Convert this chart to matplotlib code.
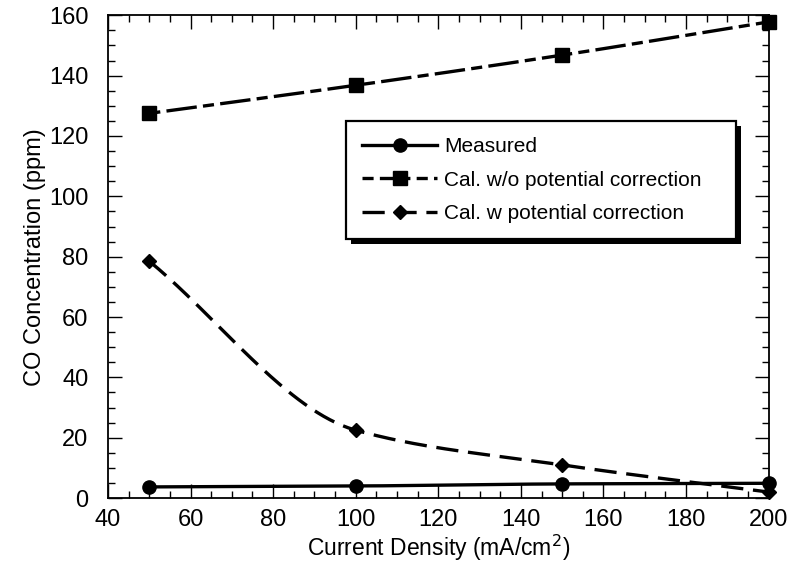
import numpy as np
import matplotlib
matplotlib.use('Agg')
import matplotlib.pyplot as plt
from matplotlib.ticker import MultipleLocator
from matplotlib.patches import Rectangle

plt.rcParams['font.family'] = ['Liberation Sans', 'DejaVu Sans']
plt.rcParams['lines.scale_dashes'] = False

current = [50, 100, 150, 200]
measured = [3.7, 4.0, 4.7, 4.9]
cal_wo = [127.5, 136.8, 146.8, 157.8]
cal_w = [78.5, 22.5, 11.0, 2.0]
labels = ['Measured', 'Cal. w/o potential correction', 'Cal. w potential correction']


def pchip(x, y, n=200):
    # smooth monotone curve through the points, like the original plotting program
    x = np.asarray(x, float)
    y = np.asarray(y, float)
    h = np.diff(x)
    d = np.diff(y) / h
    m = np.zeros_like(y)
    for k in range(1, len(x) - 1):
        if d[k - 1] * d[k] > 0:
            w1 = 2 * h[k] + h[k - 1]
            w2 = h[k] + 2 * h[k - 1]
            m[k] = (w1 + w2) / (w1 / d[k - 1] + w2 / d[k])
    m[0] = d[0]
    m[-1] = d[-1]
    xs = np.linspace(x[0], x[-1], n)
    i = np.clip(np.searchsorted(x, xs) - 1, 0, len(x) - 2)
    t = (xs - x[i]) / h[i]
    h00 = 2 * t**3 - 3 * t**2 + 1
    h10 = t**3 - 2 * t**2 + t
    h01 = -2 * t**3 + 3 * t**2
    h11 = t**3 - t**2
    ys = h00 * y[i] + h10 * h[i] * m[i] + h01 * y[i + 1] + h11 * h[i] * m[i + 1]
    return xs, ys


fig = plt.figure(figsize=(7.94, 5.66), dpi=100)
ax = fig.add_axes([0.136, 0.120, 0.832, 0.853])

styles = [
    dict(ls='-', marker='o', ms=9.5),
    dict(ls=(0, (8, 4.5, 22, 4.5)), marker='s', ms=10.5),
    dict(ls=(0, (16, 7)), marker='D', ms=7.5),
]
handles = []
for ys, lab, st in zip([measured, cal_wo, cal_w], labels, styles):
    sx, sy = pchip(current, ys)
    ax.plot(sx, sy, color='k', lw=2.4, ls=st['ls'], zorder=2)
    ax.plot(current, ys, ls='none', marker=st['marker'], ms=st['ms'], color='k', clip_on=False, zorder=3)
    h, = ax.plot([], [], color='k', lw=2.4, ls=st['ls'], marker=st['marker'], ms=st['ms'])
    handles.append(h)

ax.set_xlim(40, 200)
ax.set_ylim(0, 160)
ax.xaxis.set_major_locator(MultipleLocator(20))
ax.xaxis.set_minor_locator(MultipleLocator(5))
ax.yaxis.set_major_locator(MultipleLocator(20))
ax.yaxis.set_minor_locator(MultipleLocator(5))
ax.tick_params(which='both', direction='in', top=True, right=True, width=1, labelsize=17)
ax.tick_params(which='major', length=10)
ax.tick_params(which='minor', length=5)
ax.tick_params(axis='x', pad=8)
ax.tick_params(axis='y', pad=14)
for s in ax.spines.values():
    s.set_linewidth(1.3)

ax.set_xlabel('Current Density (mA/cm$^2$)', fontsize=16.5, labelpad=1)
ax.set_ylabel('CO Concentration (ppm)', fontsize=17, labelpad=2)

# legend box spans a fixed width, content left-aligned
leg = ax.legend(handles, labels, loc='upper left', bbox_to_anchor=(0.361, 0.53, 0.59, 0.25),
                mode='expand', fontsize=15, frameon=True, fancybox=False, framealpha=1,
                facecolor='white', handlelength=3.6, handletextpad=0.35, borderpad=0.75,
                labelspacing=0.7, borderaxespad=0)
leg.get_frame().set_edgecolor('k')
leg.get_frame().set_linewidth(1.6)
leg.set_zorder(5)

fig.canvas.draw()
bb = leg.get_window_extent()
inv = ax.transAxes.inverted()
(x0, y0), (x1, y1) = inv.transform([(bb.x0 + 5, bb.y0 - 5), (bb.x1 + 5, bb.y1 - 5)])
ax.add_patch(Rectangle((x0, y0), x1 - x0, y1 - y0, transform=ax.transAxes,
                       facecolor='k', edgecolor='none', zorder=4, clip_on=False))

fig.savefig('out.png', dpi=100)
